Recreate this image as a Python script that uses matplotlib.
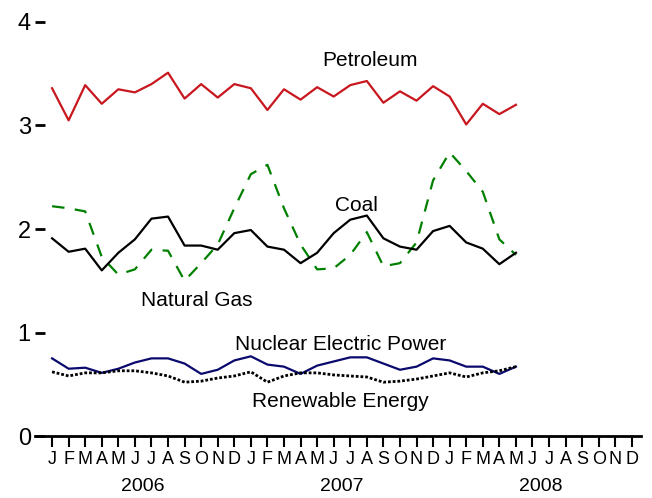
# Energy consumption by source, monthly 2006-2008
import matplotlib.pyplot as plt
import numpy as np

plt.rcParams['font.family'] = ['Liberation Sans', 'DejaVu Sans']
plt.rcParams['lines.scale_dashes'] = False

# Data (Jan 2006 - May 2008)
months = list(range(29))
petroleum = [3.36, 3.05, 3.39, 3.21, 3.35, 3.32, 3.40, 3.51, 3.26, 3.40, 3.27, 3.40, 3.36, 3.15, 3.35,
             3.25, 3.37, 3.28, 3.39, 3.43, 3.22, 3.33, 3.24, 3.38, 3.28, 3.01, 3.21, 3.11, 3.20]
coal = [1.91, 1.78, 1.81, 1.60, 1.77, 1.90, 2.10, 2.12, 1.84, 1.84, 1.80, 1.96, 1.99, 1.83, 1.80,
        1.67, 1.77, 1.96, 2.09, 2.13, 1.91, 1.83, 1.80, 1.98, 2.03, 1.87, 1.81, 1.66, 1.77]
natural_gas = [2.22, 2.20, 2.17, 1.73, 1.56, 1.61, 1.80, 1.79, 1.50, 1.67, 1.85, 2.20, 2.53, 2.62, 2.20,
               1.85, 1.61, 1.62, 1.75, 1.97, 1.64, 1.67, 1.87, 2.47, 2.74, 2.56, 2.36, 1.90, 1.75]
nuclear = [0.75, 0.65, 0.66, 0.61, 0.65, 0.71, 0.75, 0.75, 0.70, 0.60, 0.64, 0.73, 0.77, 0.69, 0.67,
           0.60, 0.68, 0.72, 0.76, 0.76, 0.70, 0.64, 0.67, 0.75, 0.73, 0.67, 0.67, 0.60, 0.67]
renewable = [0.62, 0.58, 0.61, 0.61, 0.63, 0.63, 0.61, 0.58, 0.52, 0.53, 0.56, 0.58, 0.62, 0.52, 0.58,
             0.61, 0.61, 0.59, 0.58, 0.57, 0.52, 0.53, 0.55, 0.58, 0.61, 0.57, 0.61, 0.63, 0.67]

month_letters = list("JFMAMJJASOND") * 3
years = ["2006", "2007", "2008"]

fig = plt.figure(figsize=(6.52, 4.98), dpi=100)
ax = fig.add_axes([35/652, 62/498, 606/652, 414/498])

ax.plot(months, petroleum, color='#c8171e', lw=1.6)
ax.plot(months, natural_gas, color='#008000', lw=1.6, dashes=(9, 7.5))
ax.plot(months, coal, color='black', lw=1.6)
ax.plot(months, nuclear, color='#0a0a6e', lw=1.6)
ax.plot(months, renewable, color='black', lw=2.0, dashes=(2, 1.4))

# series labels
ax.text(19.2, 3.63, "Petroleum", fontsize=15, ha='center', va='center')
ax.text(18.4, 2.23, "Coal", fontsize=15, ha='center', va='center')
ax.text(8.75, 1.31, "Natural Gas", fontsize=15, ha='center', va='center')
ax.text(17.4, 0.88, "Nuclear Electric Power", fontsize=15, ha='center', va='center')
ax.text(17.4, 0.33, "Renewable Energy", fontsize=15, ha='center', va='center')

ax.set_xlim(-1.03, 35.55)
ax.set_ylim(0, 4)
for s in ['top', 'right', 'left']:
    ax.spines[s].set_visible(False)
ax.spines['bottom'].set_linewidth(2)

ax.set_yticks([0, 1, 2, 3, 4])
ax.tick_params(axis='y', direction='in', length=7, width=2, labelsize=17, pad=3)
ax.set_xticks(range(36))
ax.set_xticklabels(month_letters)
ax.tick_params(axis='x', direction='out', length=8, width=1.5, labelsize=13, pad=3)

for k, yr in enumerate(years):
    ax.text(5.5 + 12*k, -0.49, yr, fontsize=14, ha='center', va='center')

fig.savefig("out.png", dpi=100)
